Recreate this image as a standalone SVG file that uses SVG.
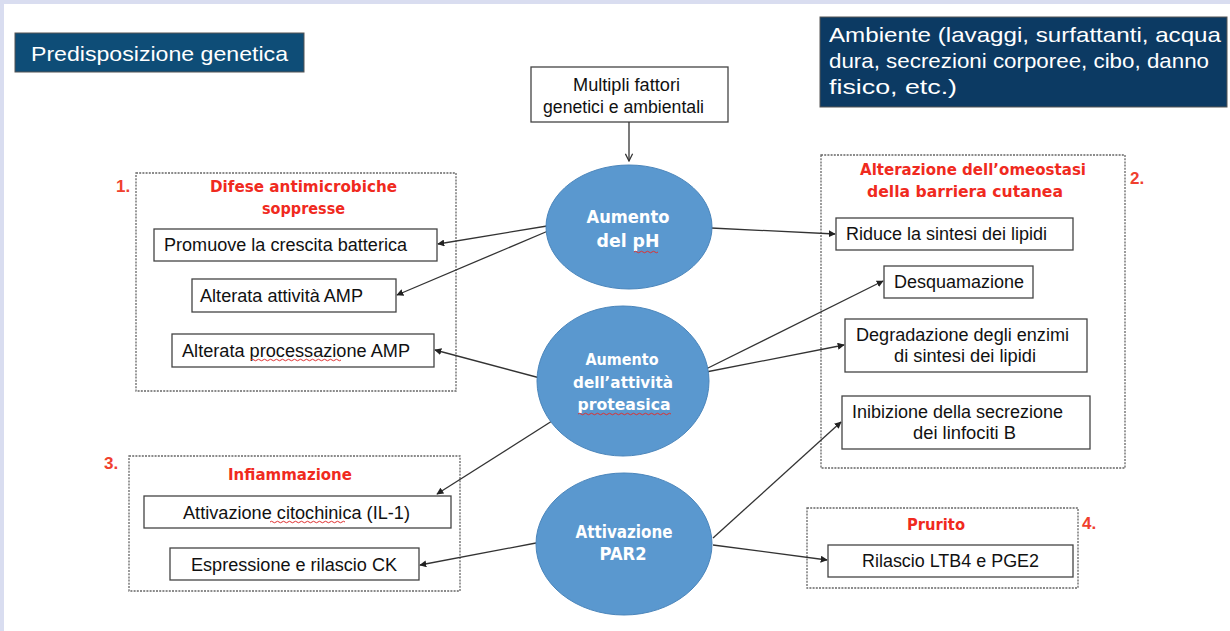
<svg xmlns="http://www.w3.org/2000/svg" width="1230" height="631" viewBox="0 0 1230 631">
<defs>
<marker id="ah" viewBox="0 0 10 10" refX="9" refY="5" markerWidth="7" markerHeight="7" orient="auto" markerUnits="userSpaceOnUse">
<path d="M0,0 L10,5 L0,10 z" fill="#222"/>
</marker>
<marker id="av" viewBox="0 0 10 10" refX="9" refY="5" markerWidth="9" markerHeight="9" orient="auto" markerUnits="userSpaceOnUse">
<path d="M1,1 L9,5 L1,9" fill="none" stroke="#333" stroke-width="1.4"/>
</marker>
<style>
.box{fill:#fff;stroke:#444;stroke-width:1.3}
.grp{fill:none;stroke:#666;stroke-width:1.3;stroke-dasharray:2 1.2}
.t{font-family:"Liberation Sans",Arial,sans-serif;font-size:17.5px;fill:#111}
.red{font-family:"DejaVu Sans",sans-serif;font-weight:bold;font-size:15px;fill:#f02a1e}
.num{font-family:"Liberation Sans",Arial,sans-serif;font-weight:bold;font-size:17px;fill:#f0402e}
.ell{fill:#5a98cf;stroke:#4a85bb;stroke-width:1}
.et{font-family:"DejaVu Sans",sans-serif;font-weight:bold;fill:#fff;text-anchor:middle}
.hd{font-family:"Liberation Sans",Arial,sans-serif;font-size:21px;fill:#fff}
.c{fill:none;stroke:#333;stroke-width:1.3;marker-end:url(#ah)}
.sq{fill:none;stroke:#e03030;stroke-width:1}
</style>
</defs>
<rect x="0" y="0" width="1230" height="631" fill="#fff"/>
<rect x="0" y="0" width="1230" height="4" fill="#d9ddf0"/>
<rect x="0" y="0" width="4" height="631" fill="#d9ddf0"/>

<g id="predisposizione">
<rect x="15" y="33" width="289" height="39" fill="#0e4d77" stroke="#555" stroke-width="1"/>
<text class="hd" x="31" y="61" font-size="22" textLength="257" lengthAdjust="spacingAndGlyphs">Predisposizione genetica</text>
</g>

<g id="ambiente">
<rect x="820" y="17" width="407" height="90" fill="#0c3a63" stroke="#555" stroke-width="1"/>
<text class="hd" x="829" y="42" textLength="392" lengthAdjust="spacingAndGlyphs">Ambiente (lavaggi, surfattanti, acqua</text>
<text class="hd" x="829" y="68" textLength="380" lengthAdjust="spacingAndGlyphs">dura, secrezioni corporee, cibo, danno</text>
<text class="hd" x="829" y="94" textLength="128" lengthAdjust="spacingAndGlyphs">fisico, etc.)</text>
</g>

<g id="multipli">
<rect class="box" x="531" y="67" width="197" height="55"/>
<text class="t" x="573" y="91" font-size="17" textLength="107" lengthAdjust="spacingAndGlyphs">Multipli fattori</text>
<text class="t" x="543" y="113" font-size="17" textLength="161" lengthAdjust="spacingAndGlyphs">genetici e ambientali</text>
</g>

<g id="group1">
<rect class="grp" x="136" y="173" width="320" height="218"/>
<text class="num" x="116" y="192">1.</text>
<text class="red" x="210" y="192" textLength="187" lengthAdjust="spacingAndGlyphs">Difese antimicrobiche</text>
<text class="red" x="262" y="214" textLength="83" lengthAdjust="spacingAndGlyphs">soppresse</text>
</g>
<g id="n-promuove">
<rect class="box" x="154" y="229" width="283" height="32"/>
<text class="t" x="164" y="251" textLength="243" lengthAdjust="spacingAndGlyphs">Promuove la crescita batterica</text>
</g>
<g id="n-attivita">
<rect class="box" x="192" y="279" width="204" height="33"/>
<text class="t" x="200" y="302" textLength="163" lengthAdjust="spacingAndGlyphs">Alterata attività AMP</text>
</g>
<g id="n-processazione">
<rect class="box" x="172" y="334" width="262" height="33"/>
<text class="t" x="182" y="357" textLength="228" lengthAdjust="spacingAndGlyphs">Alterata processazione AMP</text>
<path class="sq" d="M251,360 q1.5,-1.5 3,0 t3,0 t3,0 t3,0 t3,0 t3,0 t3,0 t3,0 t3,0 t3,0 t3,0 t3,0 t3,0 t3,0 t3,0 t3,0 t3,0 t3,0 t3,0 t3,0 t3,0 t3,0 t3,0 t3,0 t3,0 t3,0 t3,0 t3,0 t3,0 t3,0"/>
</g>

<g id="group2">
<rect class="grp" x="821" y="155" width="304" height="313"/>
<text class="num" x="1130" y="184">2.</text>
<text class="red" x="860" y="175" textLength="226" lengthAdjust="spacingAndGlyphs">Alterazione dell’omeostasi</text>
<text class="red" x="867" y="197" textLength="196" lengthAdjust="spacingAndGlyphs">della barriera cutanea</text>
</g>
<g id="n-riduce">
<rect class="box" x="836" y="218" width="237" height="32"/>
<text class="t" x="846" y="240" textLength="201" lengthAdjust="spacingAndGlyphs">Riduce la sintesi dei lipidi</text>
</g>
<g id="n-desquamazione">
<rect class="box" x="884" y="266" width="149" height="32"/>
<text class="t" x="894" y="288" textLength="130" lengthAdjust="spacingAndGlyphs">Desquamazione</text>
</g>
<g id="n-degradazione">
<rect class="box" x="845" y="319" width="242" height="53"/>
<text class="t" x="856" y="341" textLength="213" lengthAdjust="spacingAndGlyphs">Degradazione degli enzimi</text>
<text class="t" x="894" y="362" textLength="142" lengthAdjust="spacingAndGlyphs">di sintesi dei lipidi</text>
</g>
<g id="n-inibizione">
<rect class="box" x="842" y="396" width="248" height="53"/>
<text class="t" x="852" y="418" textLength="211" lengthAdjust="spacingAndGlyphs">Inibizione della secrezione</text>
<text class="t" x="913" y="439" textLength="103" lengthAdjust="spacingAndGlyphs">dei linfociti B</text>
</g>

<g id="group3">
<rect class="grp" x="129" y="456" width="331" height="135"/>
<text class="num" x="104" y="469">3.</text>
<text class="red" x="228" y="480" textLength="124" lengthAdjust="spacingAndGlyphs">Infiammazione</text>
</g>
<g id="n-citochinica">
<rect class="box" x="144" y="496" width="307" height="32"/>
<text class="t" x="183" y="519" textLength="227" lengthAdjust="spacingAndGlyphs">Attivazione citochinica (IL-1)</text>
<path class="sq" d="M270,522 q1.5,-1.5 3,0 t3,0 t3,0 t3,0 t3,0 t3,0 t3,0 t3,0 t3,0 t3,0 t3,0 t3,0 t3,0 t3,0 t3,0 t3,0 t3,0 t3,0 t3,0 t3,0 t3,0 t3,0 t3,0 t3,0 t3,0"/>
</g>
<g id="n-espressione">
<rect class="box" x="170" y="548" width="249" height="32"/>
<text class="t" x="191" y="571" textLength="206" lengthAdjust="spacingAndGlyphs">Espressione e rilascio CK</text>
</g>

<g id="group4">
<rect class="grp" x="807" y="508" width="271" height="80"/>
<text class="num" x="1082" y="529">4.</text>
<text class="red" x="907" y="530" textLength="58" lengthAdjust="spacingAndGlyphs">Prurito</text>
</g>
<g id="n-rilascio">
<rect class="box" x="828" y="545" width="245" height="32"/>
<text class="t" x="862" y="567" textLength="177" lengthAdjust="spacingAndGlyphs">Rilascio LTB4 e PGE2</text>
</g>

<g id="connectors">
<path d="M629,122 L629,161" fill="none" stroke="#333" stroke-width="1.3" marker-end="url(#av)"/>
<path class="c" d="M547,226 L438,244"/>
<path class="c" d="M548,231 L397,295"/>
<path class="c" d="M540,378 L435,350"/>
<path class="c" d="M711,228 L835,234"/>
<path class="c" d="M706,369 L883,281"/>
<path class="c" d="M706,372 L844,345"/>
<path class="c" d="M552,421 L437,494"/>
<path class="c" d="M713,538 L841,422"/>
<path class="c" d="M536,543 L420,565"/>
<path class="c" d="M713,545 L827,560"/>
</g>

<g id="e-ph">
<ellipse class="ell" cx="629" cy="227" rx="83" ry="62"/>
<text class="et" x="628" y="223" font-size="18" textLength="83" lengthAdjust="spacingAndGlyphs">Aumento</text>
<text class="et" x="628" y="247" font-size="18" textLength="63" lengthAdjust="spacingAndGlyphs">del pH</text>
<path class="sq" d="M634,252 q1.5,-1.5 3,0 t3,0 t3,0 t3,0 t3,0 t3,0 t3,0 t3,0"/>
</g>
<g id="e-proteasi">
<ellipse class="ell" cx="623" cy="381" rx="86" ry="75"/>
<text class="et" x="622" y="365" font-size="16" textLength="73" lengthAdjust="spacingAndGlyphs">Aumento</text>
<text class="et" x="623" y="388" font-size="16" textLength="100" lengthAdjust="spacingAndGlyphs">dell’attività</text>
<text class="et" x="624" y="410" font-size="16" textLength="93" lengthAdjust="spacingAndGlyphs">proteasica</text>
<path class="sq" d="M578,414 q1.5,-1.5 3,0 t3,0 t3,0 t3,0 t3,0 t3,0 t3,0 t3,0 t3,0 t3,0 t3,0 t3,0 t3,0 t3,0 t3,0 t3,0 t3,0 t3,0 t3,0 t3,0 t3,0 t3,0 t3,0 t3,0 t3,0 t3,0 t3,0 t3,0 t3,0 t3,0 t3,0"/>
</g>
<g id="e-par2">
<ellipse class="ell" cx="624" cy="544" rx="88" ry="71"/>
<text class="et" x="624" y="538" font-size="17" textLength="97" lengthAdjust="spacingAndGlyphs">Attivazione</text>
<text class="et" x="623" y="560" font-size="17" textLength="47" lengthAdjust="spacingAndGlyphs">PAR2</text>
</g>
</svg>
